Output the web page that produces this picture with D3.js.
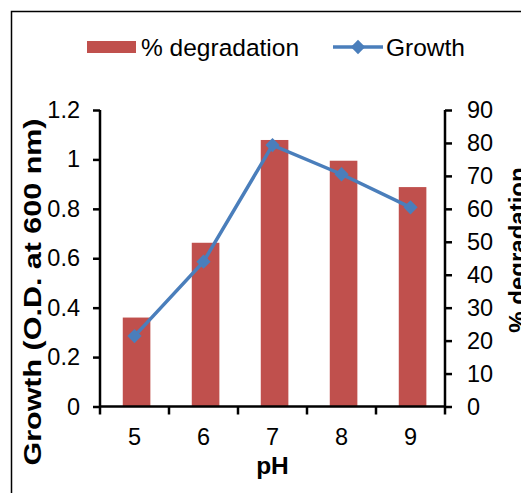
<!DOCTYPE html>
<html>
<head>
<meta charset="utf-8">
<script src="https://cdn.jsdelivr.net/npm/d3@7"></script>
<style>
  body { margin: 0; background: #fff; }
  text { font-family: "Liberation Sans", Arial, sans-serif; fill: #000; }
</style>
</head>
<body>
<div id="chart"></div>
<script>
// pH values and measurements
const phLabels = ['5', '6', '7', '8', '9'];
const degradation = [27, 49.7, 80.9, 74.6, 66.6];
const growth = [0.285, 0.586, 1.058, 0.94, 0.806];
const growthTicks = [0, 0.2, 0.4, 0.6, 0.8, 1, 1.2];
const degTicks = [0, 10, 20, 30, 40, 50, 60, 70, 80, 90];

const width = 521, height = 493;
const plotLeft = 100, plotRight = 445, plotTop = 110, plotBottom = 406.5;
const barColor = '#C0504D', lineColor = '#4A7EBB';

let svg = d3.select('#chart')
  .append('svg')
    .attr('width', width)
    .attr('height', height);

// outer frame (runs off the right and bottom edges)
svg.append('rect')
  .attr('x', 11.5).attr('y', 11.5)
  .attr('width', 600).attr('height', 600)
  .attr('fill', 'none')
  .attr('stroke', '#000')
  .attr('stroke-width', 1.5);

// scales
let x = d3.scaleBand()
  .domain(phLabels)
  .range([plotLeft, plotRight]);

let yLeft = d3.scaleLinear()
  .domain([0, 1.2])
  .range([plotBottom, plotTop]);

let yRight = d3.scaleLinear()
  .domain([0, 90])
  .range([plotBottom, plotTop]);

// bars
svg.append('g')
  .selectAll('rect')
  .data(degradation)
  .enter().append('rect')
    .attr('x', (d, i) => x(phLabels[i]) + x.bandwidth() * 0.33)
    .attr('width', x.bandwidth() * 0.4)
    .attr('y', d => yRight(d))
    .attr('height', d => plotBottom - yRight(d))
    .attr('fill', barColor);

// axes
let axisLeft = svg.append('g')
  .attr('transform', 'translate(' + plotLeft + ',0)')
  .call(d3.axisLeft(yLeft).tickValues(growthTicks).tickSize(7).tickPadding(13)
    .tickFormat(d => String(+d.toFixed(1))));

let axisRight = svg.append('g')
  .attr('transform', 'translate(' + plotRight + ',0)')
  .call(d3.axisRight(yRight).tickValues(degTicks).tickSize(7).tickPadding(15));

let axisBottom = svg.append('g')
  .attr('transform', 'translate(0,' + plotBottom + ')')
  .call(d3.axisBottom(x).tickSize(0).tickPadding(22));

// category boundary ticks on the x axis
svg.append('g')
  .selectAll('line')
  .data(d3.range(phLabels.length + 1))
  .enter().append('line')
    .attr('x1', i => plotLeft + i * x.step())
    .attr('x2', i => plotLeft + i * x.step())
    .attr('y1', plotBottom)
    .attr('y2', plotBottom + 8)
    .attr('stroke', '#000')
    .attr('stroke-width', 2.5);

[axisLeft, axisRight, axisBottom].forEach(g => {
  g.select('.domain').attr('stroke', '#000').attr('stroke-width', 2.5);
  g.selectAll('.tick line').attr('stroke', '#000').attr('stroke-width', 2.5);
  g.selectAll('.tick text')
    .style('font-size', '23.5px')
    .style('font-family', '"Liberation Sans", Arial, sans-serif');
});
axisLeft.select('.domain').attr('d', 'M0,' + plotTop + 'V' + plotBottom);
axisRight.select('.domain').attr('d', 'M0,' + plotTop + 'V' + plotBottom);
axisBottom.select('.domain').attr('d', 'M' + plotLeft + ',0H' + plotRight);

// growth line
let line = d3.line()
  .x((d, i) => x(phLabels[i]) + x.bandwidth() / 2)
  .y(d => yLeft(d));

svg.append('path')
  .datum(growth)
  .attr('d', line)
  .attr('fill', 'none')
  .attr('stroke', lineColor)
  .attr('stroke-width', 3.5);

svg.append('g')
  .selectAll('path')
  .data(growth)
  .enter().append('path')
    .attr('d', d3.symbol(d3.symbolDiamond2, 130))
    .attr('transform', (d, i) => 'translate(' + (x(phLabels[i]) + x.bandwidth() / 2) + ',' + yLeft(d) + ')')
    .attr('fill', lineColor);

// axis titles (left title is drawn stretched along its length, as in the source)
svg.append('text')
  .attr('transform', 'translate(41,292) scale(1,1.27) rotate(-90)')
  .attr('text-anchor', 'middle')
  .style('font-size', '24px')
  .style('font-weight', 'bold')
  .text('Growth (O.D. at 600 nm)');

svg.append('text')
  .attr('transform', 'translate(508,250) rotate(-90)')
  .attr('text-anchor', 'middle')
  .attr('dy', '0.75em')
  .style('font-size', '24px')
  .style('font-weight', 'bold')
  .text('% degradation');

svg.append('text')
  .attr('x', (plotLeft + plotRight) / 2)
  .attr('y', 474)
  .attr('text-anchor', 'middle')
  .style('font-size', '24.5px')
  .style('font-weight', 'bold')
  .text('pH');

// legend
let legend = svg.append('g').attr('transform', 'translate(0,47)');
legend.append('rect')
  .attr('x', 87).attr('y', -6)
  .attr('width', 49).attr('height', 12)
  .attr('fill', barColor);
legend.append('text')
  .attr('x', 141).attr('y', 9)
  .style('font-size', '24.5px')
  .text('% degradation');
legend.append('line')
  .attr('x1', 333).attr('x2', 383)
  .attr('stroke', lineColor)
  .attr('stroke-width', 3.5);
legend.append('path')
  .attr('d', d3.symbol(d3.symbolDiamond2, 130))
  .attr('transform', 'translate(358,0)')
  .attr('fill', lineColor);
legend.append('text')
  .attr('x', 386).attr('y', 9)
  .style('font-size', '24.5px')
  .text('Growth');
</script>
</body>
</html>
